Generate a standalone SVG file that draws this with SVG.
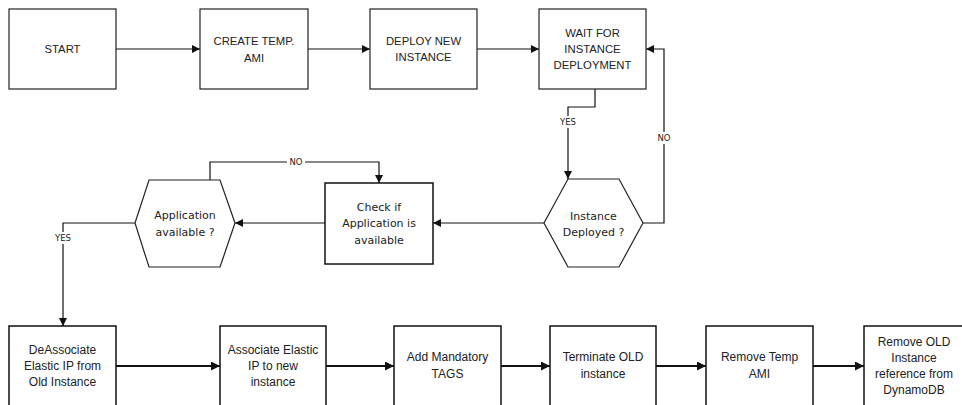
<svg xmlns="http://www.w3.org/2000/svg" width="962" height="405" viewBox="0 0 962 405">
<style>
.box{fill:#fff;stroke:#222;stroke-width:1.2}
.bbox{fill:#fff;stroke:#111;stroke-width:1.5}
.t{font-family:"Liberation Sans",Arial,sans-serif;font-size:11.3px;fill:#222;text-anchor:middle;dominant-baseline:central}
.tb{font-family:"Liberation Sans",Arial,sans-serif;font-size:12px;fill:#222;text-anchor:middle;dominant-baseline:central}
.v{font-family:"DejaVu Sans",Verdana,sans-serif;font-size:11px;fill:#222;text-anchor:middle;dominant-baseline:central}
.lbl{font-family:"DejaVu Sans",Verdana,sans-serif;font-size:8.5px;fill:#222;text-anchor:middle;dominant-baseline:central}
.c{fill:none;stroke:#111;stroke-width:1.2}
.cb{fill:none;stroke:#111;stroke-width:2}
</style>
<defs>
<marker id="ah" viewBox="0 0 10 10" refX="10" refY="5" markerWidth="8" markerHeight="8" markerUnits="userSpaceOnUse" orient="auto"><path d="M0,0 L10,5 L0,10 z" fill="#111"/></marker>
<marker id="ahb" viewBox="0 0 10 10" refX="10" refY="5" markerWidth="9" markerHeight="9" markerUnits="userSpaceOnUse" orient="auto"><path d="M0,0 L10,5 L0,10 z" fill="#111"/></marker>
</defs>
<g id="connectors">
<path class="c" d="M116,49 H200" marker-end="url(#ah)"/>
<path class="c" d="M308,49 H370" marker-end="url(#ah)"/>
<path class="c" d="M477,49 H539" marker-end="url(#ah)"/>
<path class="c" d="M595,89 V107 H568 V179" marker-end="url(#ah)"/>
<path class="c" d="M643,223 H664 V49 H646" marker-end="url(#ah)"/>
<path class="c" d="M544,223 H433" marker-end="url(#ah)"/>
<path class="c" d="M325,223 H235" marker-end="url(#ah)"/>
<path class="c" d="M210,180 V162 H379 V183" marker-end="url(#ah)"/>
<path class="c" d="M135,223 H63 V326" marker-end="url(#ah)"/>
<path class="cb" d="M116,366 H220" marker-end="url(#ahb)"/>
<path class="cb" d="M326,366 H394" marker-end="url(#ahb)"/>
<path class="cb" d="M501,366 H550" marker-end="url(#ahb)"/>
<path class="cb" d="M656,366 H706" marker-end="url(#ahb)"/>
<path class="cb" d="M813,366 H864" marker-end="url(#ahb)"/>
<rect x="559" y="116" width="18" height="12" fill="#fff"/>
<text class="lbl" x="568" y="122">YES</text>
<rect x="656" y="132" width="16" height="12" fill="#fff"/>
<text class="lbl" x="664" y="138">NO</text>
<rect x="287" y="157" width="18" height="10" fill="#fff"/>
<text class="lbl" x="296" y="162">NO</text>
<rect x="54" y="232" width="18" height="12" fill="#fff"/>
<text class="lbl" x="63" y="238">YES</text>
</g>
<g id="start"><rect class="box" x="9" y="9" width="107" height="80"/><text class="t" x="62.5" y="49">START</text></g>
<g id="create-ami"><rect class="box" x="200" y="9" width="108" height="80"/><text class="t" x="254" y="41">CREATE TEMP.</text><text class="t" x="254" y="58">AMI</text></g>
<g id="deploy"><rect class="box" x="370" y="9" width="107" height="80"/><text class="t" x="423.5" y="41">DEPLOY NEW</text><text class="t" x="423.5" y="57">INSTANCE</text></g>
<g id="wait"><rect class="box" x="539" y="9" width="107" height="80"/><text class="t" x="592.5" y="33">WAIT FOR</text><text class="t" x="592.5" y="49">INSTANCE</text><text class="t" x="592.5" y="65">DEPLOYMENT</text></g>
<g id="instance-deployed"><polygon class="box" points="568,179 619,179 643,223 619,267 568,267 544,223"/><text class="v" x="593.5" y="216">Instance</text><text class="v" x="593.5" y="232">Deployed ?</text></g>
<g id="check-app"><rect class="bbox" x="325" y="183" width="108" height="81"/><text class="v" x="379" y="207">Check if</text><text class="v" x="379" y="223">Application is</text><text class="v" x="379" y="240">available</text></g>
<g id="app-available"><polygon class="box" points="149,180 220,180 235,223 220,267 149,267 135,223"/><text class="v" x="185" y="215">Application</text><text class="v" x="185" y="232">available ?</text></g>
<g id="deassociate"><rect class="bbox" x="9" y="326" width="107" height="90"/><text class="tb" x="62.5" y="350">DeAssociate</text><text class="tb" x="62.5" y="366">Elastic IP from</text><text class="tb" x="62.5" y="382">Old Instance</text></g>
<g id="associate"><rect class="bbox" x="220" y="326" width="106" height="90"/><text class="tb" x="273" y="350">Associate Elastic</text><text class="tb" x="273" y="366">IP to new</text><text class="tb" x="273" y="382">instance</text></g>
<g id="tags"><rect class="bbox" x="394" y="326" width="107" height="90"/><text class="tb" x="447.5" y="357">Add Mandatory</text><text class="tb" x="447.5" y="374">TAGS</text></g>
<g id="terminate"><rect class="bbox" x="550" y="326" width="106" height="90"/><text class="tb" x="603" y="357">Terminate OLD</text><text class="tb" x="603" y="374">instance</text></g>
<g id="remove-ami"><rect class="bbox" x="706" y="326" width="107" height="90"/><text class="tb" x="759.5" y="357">Remove Temp</text><text class="tb" x="759.5" y="374">AMI</text></g>
<g id="remove-ref"><rect class="bbox" x="864" y="326" width="107" height="90"/><text class="tb" x="914" y="342">Remove OLD</text><text class="tb" x="914" y="358">Instance</text><text class="tb" x="914" y="374">reference from</text><text class="tb" x="914" y="390">DynamoDB</text></g>
</svg>
